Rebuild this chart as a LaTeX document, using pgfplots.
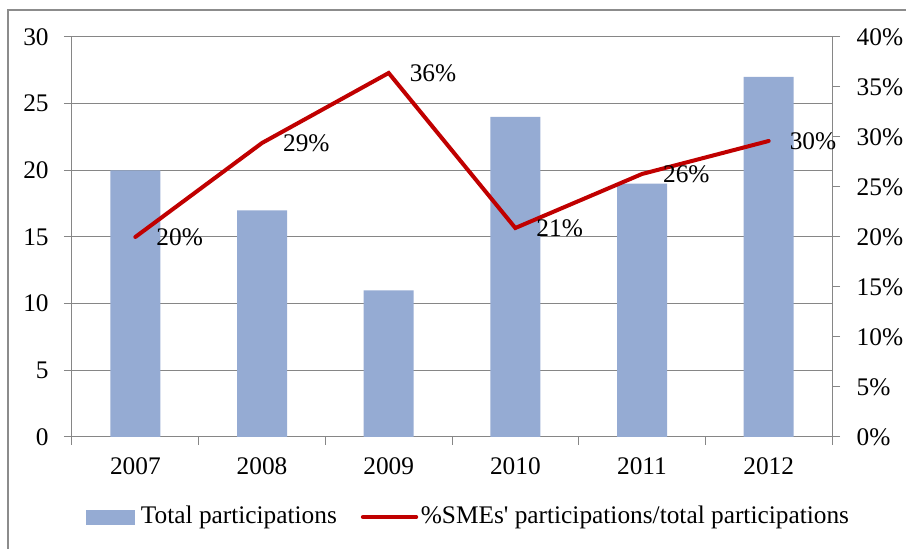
\documentclass[border=0pt]{standalone}
\usepackage{fontspec}
\setmainfont{Liberation Serif}
\usepackage{pgfplots}
\pgfplotsset{compat=1.18}
\definecolor{barblue}{HTML}{95ABD3}
\definecolor{linered}{HTML}{C00000}
\definecolor{gridgray}{HTML}{868686}
\definecolor{framegray}{HTML}{8C8C8C}
\newcommand{\lblfont}{\fontsize{19}{22}\selectfont}
\begin{document}
\lblfont
\begin{tikzpicture}[x=0.75pt,y=0.75pt]
\useasboundingbox (0,0) rectangle (906,549);
\draw[framegray, line width=1.2pt] (8,-5) -- (8,539) -- (915,539);
\begin{axis}[
  at={(54pt,84pt)}, anchor=south west, scale only axis,
  width=570pt, height=300pt,
  xmin=-0.5, xmax=5.5, ymin=0, ymax=30,
  ytick={0,5,...,30},
  xtick={0,...,5},
  xticklabels={2007,2008,2009,2010,2011,2012},
  minor xtick={-0.5,0.5,...,5.5},
  major x tick style={draw=none},
  minor tick length=6pt,
  major tick length=6pt,
  tick align=outside,
  axis y line*=left, axis x line*=bottom,
  axis line style={gridgray, line width=0.75pt, -},
  tick style={gridgray, line width=0.75pt},
  ymajorgrids, grid style={gridgray, line width=0.75pt},
  ticklabel style={font=\lblfont, text=black},
  /pgf/number format/assume math mode=true,
  xticklabel style={yshift=-3pt},
  yticklabel style={xshift=-5pt},
  ybar, bar width=37.5pt,
]
\addplot[fill=barblue, draw=none] coordinates {(0,20) (1,17) (2,11) (3,24) (4,19) (5,27)};
\end{axis}
\begin{axis}[
  at={(54pt,84pt)}, anchor=south west, scale only axis,
  width=570pt, height=300pt,
  xmin=-0.5, xmax=5.5, ymin=0, ymax=40,
  ytick={0,5,...,40},
  yticklabel={\pgfmathprintnumber{\tick}\%},
  axis y line*=right, axis x line=none,
  axis line style={gridgray, line width=0.75pt, -},
  tick style={gridgray, line width=0.75pt},
  major tick length=6pt, tick align=outside,
  ticklabel style={font=\lblfont, text=black},
  yticklabel style={xshift=6pt},
  /pgf/number format/assume math mode=true,
  legend columns=2,
  legend style={at={(0.522,-0.2)}, anchor=center, draw=none, fill=none,
    font=\lblfont,
    /tikz/every even column/.append style={column sep=16pt},
    inner sep=0pt},
  clip=false,
]
\addlegendimage{legend image code/.code={\fill[barblue] (0pt,-5.25pt) rectangle (36pt,5.25pt); \path (39pt,0pt);}}
\addlegendentry{Total participations}
\addplot[linered, line width=3pt, line cap=round,
  nodes near coords, point meta=explicit symbolic,
  every node near coord/.style={anchor=west, xshift=8pt, yshift=0pt, text=black, font=\lblfont},
  legend image code/.code={\draw[linered, line width=3pt] (0pt,0pt) -- (40pt,0pt);}]
  coordinates {(0,20.0) [20\%] (1,29.4) [29\%] (2,36.4) [36\%] (3,20.9) [21\%] (4,26.3) [26\%] (5,29.6) [30\%]};
\addlegendentry{\%SMEs\textquotesingle\ participations/total participations}
\end{axis}
\end{tikzpicture}
\end{document}
